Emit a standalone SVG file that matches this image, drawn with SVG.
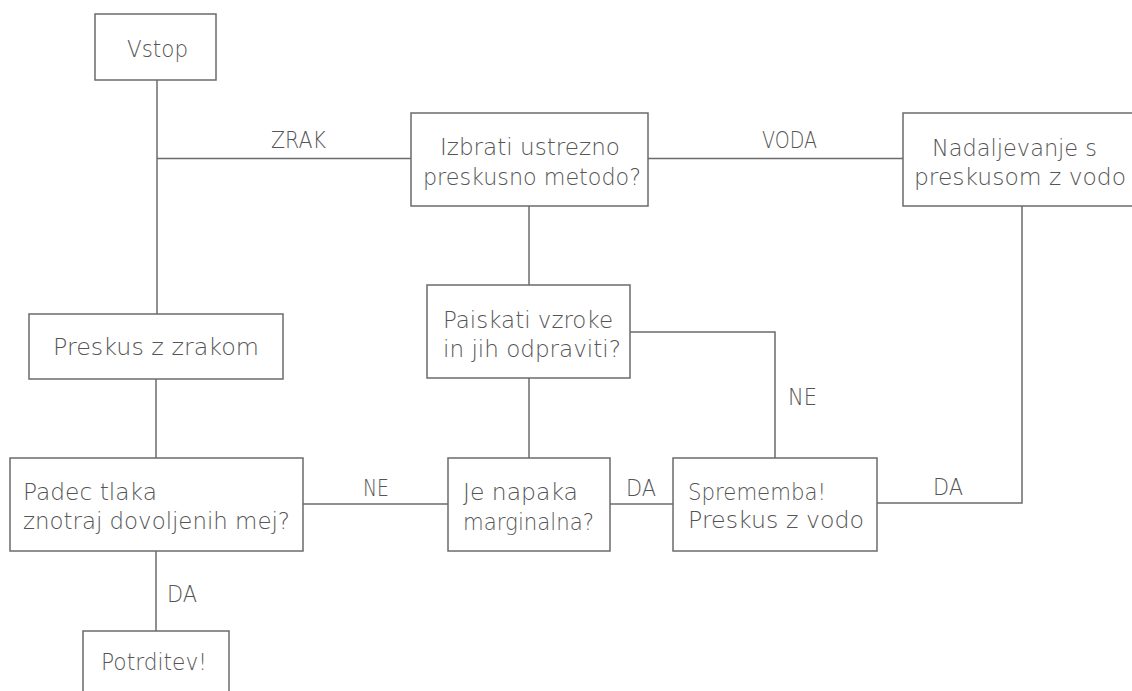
<svg xmlns="http://www.w3.org/2000/svg" width="1132" height="691" viewBox="0 0 1132 691">
<style>
.box{fill:#fff;stroke:#6b6b6b;stroke-width:1.5}
.ln{fill:none;stroke:#6b6b6b;stroke-width:1.5}
text{font-family:"DejaVu Sans","Liberation Sans",sans-serif;font-weight:200;font-size:23px;fill:#555}
</style>
<rect width="1132" height="691" fill="#fff"/>
<g id="connectors">
<path class="ln" d="M157 80V314"/>
<path class="ln" d="M157 158.5H411"/>
<path class="ln" d="M648 158.5H903"/>
<path class="ln" d="M529 206V285"/>
<path class="ln" d="M529 378V458"/>
<path class="ln" d="M156 379V458"/>
<path class="ln" d="M303 504H448"/>
<path class="ln" d="M610 504H673"/>
<path class="ln" d="M630 332H775V458"/>
<path class="ln" d="M877 503H1022V206"/>
<path class="ln" d="M156 551V631"/>
<text x="271" y="148" textLength="55" lengthAdjust="spacingAndGlyphs">ZRAK</text>
<text x="762" y="148" textLength="55" lengthAdjust="spacingAndGlyphs">VODA</text>
<text x="363" y="496" textLength="26" lengthAdjust="spacingAndGlyphs">NE</text>
<text x="626" y="496" textLength="30" lengthAdjust="spacingAndGlyphs">DA</text>
<text x="788" y="405" textLength="29" lengthAdjust="spacingAndGlyphs">NE</text>
<text x="933" y="495" textLength="30" lengthAdjust="spacingAndGlyphs">DA</text>
<text x="167" y="602" textLength="30" lengthAdjust="spacingAndGlyphs">DA</text>
</g>
<g id="vstop">
<rect class="box" x="95" y="14" width="121" height="66"/>
<text x="127" y="57" textLength="61" lengthAdjust="spacingAndGlyphs">Vstop</text>
</g>
<g id="izbrati">
<rect class="box" x="411" y="113" width="237" height="93"/>
<text x="440" y="155" textLength="180" lengthAdjust="spacingAndGlyphs">Izbrati ustrezno</text>
<text x="423" y="185" textLength="218" lengthAdjust="spacingAndGlyphs">preskusno metodo?</text>
</g>
<g id="nadaljevanje">
<rect class="box" x="903" y="113" width="240" height="93"/>
<text x="932" y="156" textLength="165" lengthAdjust="spacingAndGlyphs">Nadaljevanje s</text>
<text x="914" y="185" textLength="212" lengthAdjust="spacingAndGlyphs">preskusom z vodo</text>
</g>
<g id="preskus-zrak">
<rect class="box" x="29" y="314" width="254" height="65"/>
<text x="53" y="355" textLength="206" lengthAdjust="spacingAndGlyphs">Preskus z zrakom</text>
</g>
<g id="poiskati">
<rect class="box" x="427" y="285" width="203" height="93"/>
<text x="443" y="328" textLength="170" lengthAdjust="spacingAndGlyphs">Paiskati vzroke</text>
<text x="443" y="357" textLength="178" lengthAdjust="spacingAndGlyphs">in jih odpraviti?</text>
</g>
<g id="padec">
<rect class="box" x="10" y="458" width="293" height="93"/>
<text x="23" y="500" textLength="134" lengthAdjust="spacingAndGlyphs">Padec tlaka</text>
<text x="23" y="529" textLength="267" lengthAdjust="spacingAndGlyphs">znotraj dovoljenih mej?</text>
</g>
<g id="napaka">
<rect class="box" x="448" y="458" width="162" height="93"/>
<text x="463" y="500" textLength="115" lengthAdjust="spacingAndGlyphs">Je napaka</text>
<text x="463" y="530" textLength="131" lengthAdjust="spacingAndGlyphs">marginalna?</text>
</g>
<g id="sprememba">
<rect class="box" x="673" y="458" width="204" height="93"/>
<text x="688" y="500" textLength="138" lengthAdjust="spacingAndGlyphs">Sprememba!</text>
<text x="688" y="528" textLength="176" lengthAdjust="spacingAndGlyphs">Preskus z vodo</text>
</g>
<g id="potrditev">
<rect class="box" x="83" y="631" width="146" height="80"/>
<text x="101" y="670" textLength="106" lengthAdjust="spacingAndGlyphs">Potrditev!</text>
</g>
</svg>
